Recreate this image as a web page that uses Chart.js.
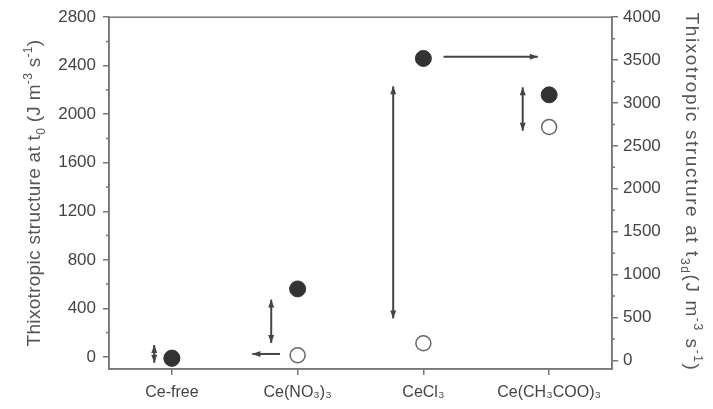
<!DOCTYPE html>
<html>
<head>
<meta charset="utf-8">
<script src="https://cdn.jsdelivr.net/npm/chart.js@4.4.1/dist/chart.umd.min.js"></script>
<style>
  body { margin: 0; background: #fff; }
  #wrap { width: 713px; height: 409px; }
</style>
</head>
<body>
<div id="wrap"><canvas id="chart"></canvas></div>
<script>
const categories = ['Ce-free', 'Ce(NO₃)₃', 'CeCl₃', 'Ce(CH₃COO)₃']
const t0Values = [-10, 560, 2460, 2160]      // filled, left axis
const t3dValues = [20, 60, 200, 2720]        // open, right axis
const leftTicks = [0, 400, 800, 1200, 1600, 2000, 2400, 2800]
const rightTicks = [0, 500, 1000, 1500, 2000, 2500, 3000, 3500, 4000]

// arrows in data units (x = category index, y = left axis)
const arrowFrom = [[-0.14, 98], [0.79, 472], [0.86, 24], [1.76, 2230], [2.16, 2474], [2.79, 2222]]
const arrowTo = [[-0.14, -49], [0.79, 114], [0.64, 24], [1.76, 317], [2.91, 2474], [2.79, 1864]]
const arrowBoth = [true, true, false, true, false, true]

const leftTitle = [['Thixotropic structure at t', 'n'], ['0', 'sub'], [' (J m', 'n'], ['-3', 'sup'], [' s', 'n'], ['-1', 'sup'], [')', 'n']]
const rightTitle = [['Thixotropic structure at t', 'n'], ['3d', 'sub'], ['(J m', 'n'], ['-3', 'sup'], [' s', 'n'], ['-1', 'sup'], [')', 'n']]

const FONT = '"Liberation Sans", Arial, sans-serif'
const AXIS = '#777'

function head(ctx, x1, y1, x2, y2) {
  const a = Math.atan2(y2 - y1, x2 - x1)
  ctx.beginPath()
  ctx.moveTo(x2, y2)
  ctx.lineTo(x2 - 8 * Math.cos(a) + 3 * Math.sin(a), y2 - 8 * Math.sin(a) - 3 * Math.cos(a))
  ctx.lineTo(x2 - 8 * Math.cos(a) - 3 * Math.sin(a), y2 - 8 * Math.sin(a) + 3 * Math.cos(a))
  ctx.closePath()
  ctx.fill()
}

function richText(ctx, parts, cx, cy, angle, size, spacing) {
  const big = size + 'px ' + FONT, small = Math.round(size * 0.65) + 'px ' + FONT
  ctx.save()
  ctx.letterSpacing = spacing + 'px'
  let w = 0
  parts.forEach(p => { ctx.font = p[1] == 'n' ? big : small; w += ctx.measureText(p[0]).width })
  ctx.translate(cx, cy)
  ctx.rotate(angle)
  ctx.fillStyle = '#555'
  ctx.textBaseline = 'middle'
  ctx.textAlign = 'left'
  let x = -w / 2
  parts.forEach(p => {
    ctx.font = p[1] == 'n' ? big : small
    const dy = p[1] == 'sub' ? size * 0.35 : p[1] == 'sup' ? -size * 0.35 : 0
    ctx.fillText(p[0], x, dy)
    x += ctx.measureText(p[0]).width
  })
  ctx.restore()
}

const extras = {
  id: 'extras',
  afterDraw(chart) {
    const ctx = chart.ctx
    const a = chart.chartArea
    const xs = chart.scales.x, ys = chart.scales.y, y2 = chart.scales.y2
    ctx.save()
    // box
    ctx.strokeStyle = AXIS
    ctx.lineWidth = 1.5
    ctx.strokeRect(a.left, a.top, a.right - a.left, a.bottom - a.top)
    // minor ticks
    ctx.beginPath()
    for (let v = 200; v < 2800; v += 400) {
      const p = ys.getPixelForValue(v)
      ctx.moveTo(a.left - 3, p); ctx.lineTo(a.left, p)
    }
    for (let v = 250; v < 4000; v += 500) {
      const p = y2.getPixelForValue(v)
      ctx.moveTo(a.right, p); ctx.lineTo(a.right + 3, p)
    }
    ctx.stroke()
    // arrows
    ctx.strokeStyle = '#444'
    ctx.fillStyle = '#444'
    ctx.lineWidth = 2
    arrowFrom.forEach((f, i) => {
      const x1 = xs.getPixelForValue(f[0]), yA = ys.getPixelForValue(f[1])
      const x2 = xs.getPixelForValue(arrowTo[i][0]), yB = ys.getPixelForValue(arrowTo[i][1])
      ctx.beginPath(); ctx.moveTo(x1, yA); ctx.lineTo(x2, yB); ctx.stroke()
      head(ctx, x1, yA, x2, yB)
      if (arrowBoth[i]) head(ctx, x2, yB, x1, yA)
    })
    ctx.restore()
    richText(ctx, leftTitle, 35, 193, -Math.PI / 2, 19, 0.3)
    richText(ctx, rightTitle, 691, 192, Math.PI / 2, 19, 1.6)
  }
}

const tickFont = { family: FONT, size: 17 }

new Chart(document.getElementById('chart'), {
  type: 'scatter',
  data: {
    datasets: [
      {
        label: 't3d',
        data: t3dValues.map((v, i) => ({ x: i, y: v })),
        yAxisID: 'y2',
        pointRadius: 7.5,
        pointBackgroundColor: '#fff',
        pointBorderColor: '#666',
        pointBorderWidth: 1.5,
        order: 2
      },
      {
        label: 't0',
        data: t0Values.map((v, i) => ({ x: i, y: v })),
        yAxisID: 'y',
        pointRadius: 8,
        pointBackgroundColor: '#333',
        pointBorderColor: '#333',
        pointBorderWidth: 1,
        order: 1
      }
    ]
  },
  options: {
    responsive: true,
    maintainAspectRatio: false,
    animation: false,
    layout: { padding: { top: 13, left: 0, right: 0, bottom: 0 } },
    plugins: { legend: { display: false }, tooltip: { enabled: false } },
    scales: {
      x: {
        type: 'linear',
        min: -0.5,
        max: 3.5,
        afterBuildTicks: s => { s.ticks = categories.map((c, i) => ({ value: i })) },
        afterFit: s => { s.height = 40 },
        ticks: { callback: v => categories[v], color: '#444', font: { family: FONT, size: 16 }, padding: 8, maxRotation: 0 },
        grid: { drawOnChartArea: false, tickLength: 6, color: AXIS, lineWidth: 1.5 },
        border: { color: AXIS, width: 1.5 }
      },
      y: {
        position: 'left',
        min: -100,
        max: 2800,
        afterBuildTicks: s => { s.ticks = leftTicks.map(v => ({ value: v })) },
        afterFit: s => { s.width = 109 },
        ticks: { callback: v => String(v), color: '#444', font: tickFont, padding: 7 },
        grid: { drawOnChartArea: false, tickLength: 6, color: AXIS, lineWidth: 1.5 },
        border: { color: AXIS, width: 1.5 }
      },
      y2: {
        position: 'right',
        min: -100,
        max: 4000,
        afterBuildTicks: s => { s.ticks = rightTicks.map(v => ({ value: v })) },
        afterFit: s => { s.width = 101 },
        ticks: { callback: v => String(v), color: '#444', font: tickFont, padding: 5 },
        grid: { drawOnChartArea: false, tickLength: 6, color: AXIS, lineWidth: 1.5 },
        border: { color: AXIS, width: 1.5 }
      }
    }
  },
  plugins: [extras]
})
</script>
</body>
</html>
